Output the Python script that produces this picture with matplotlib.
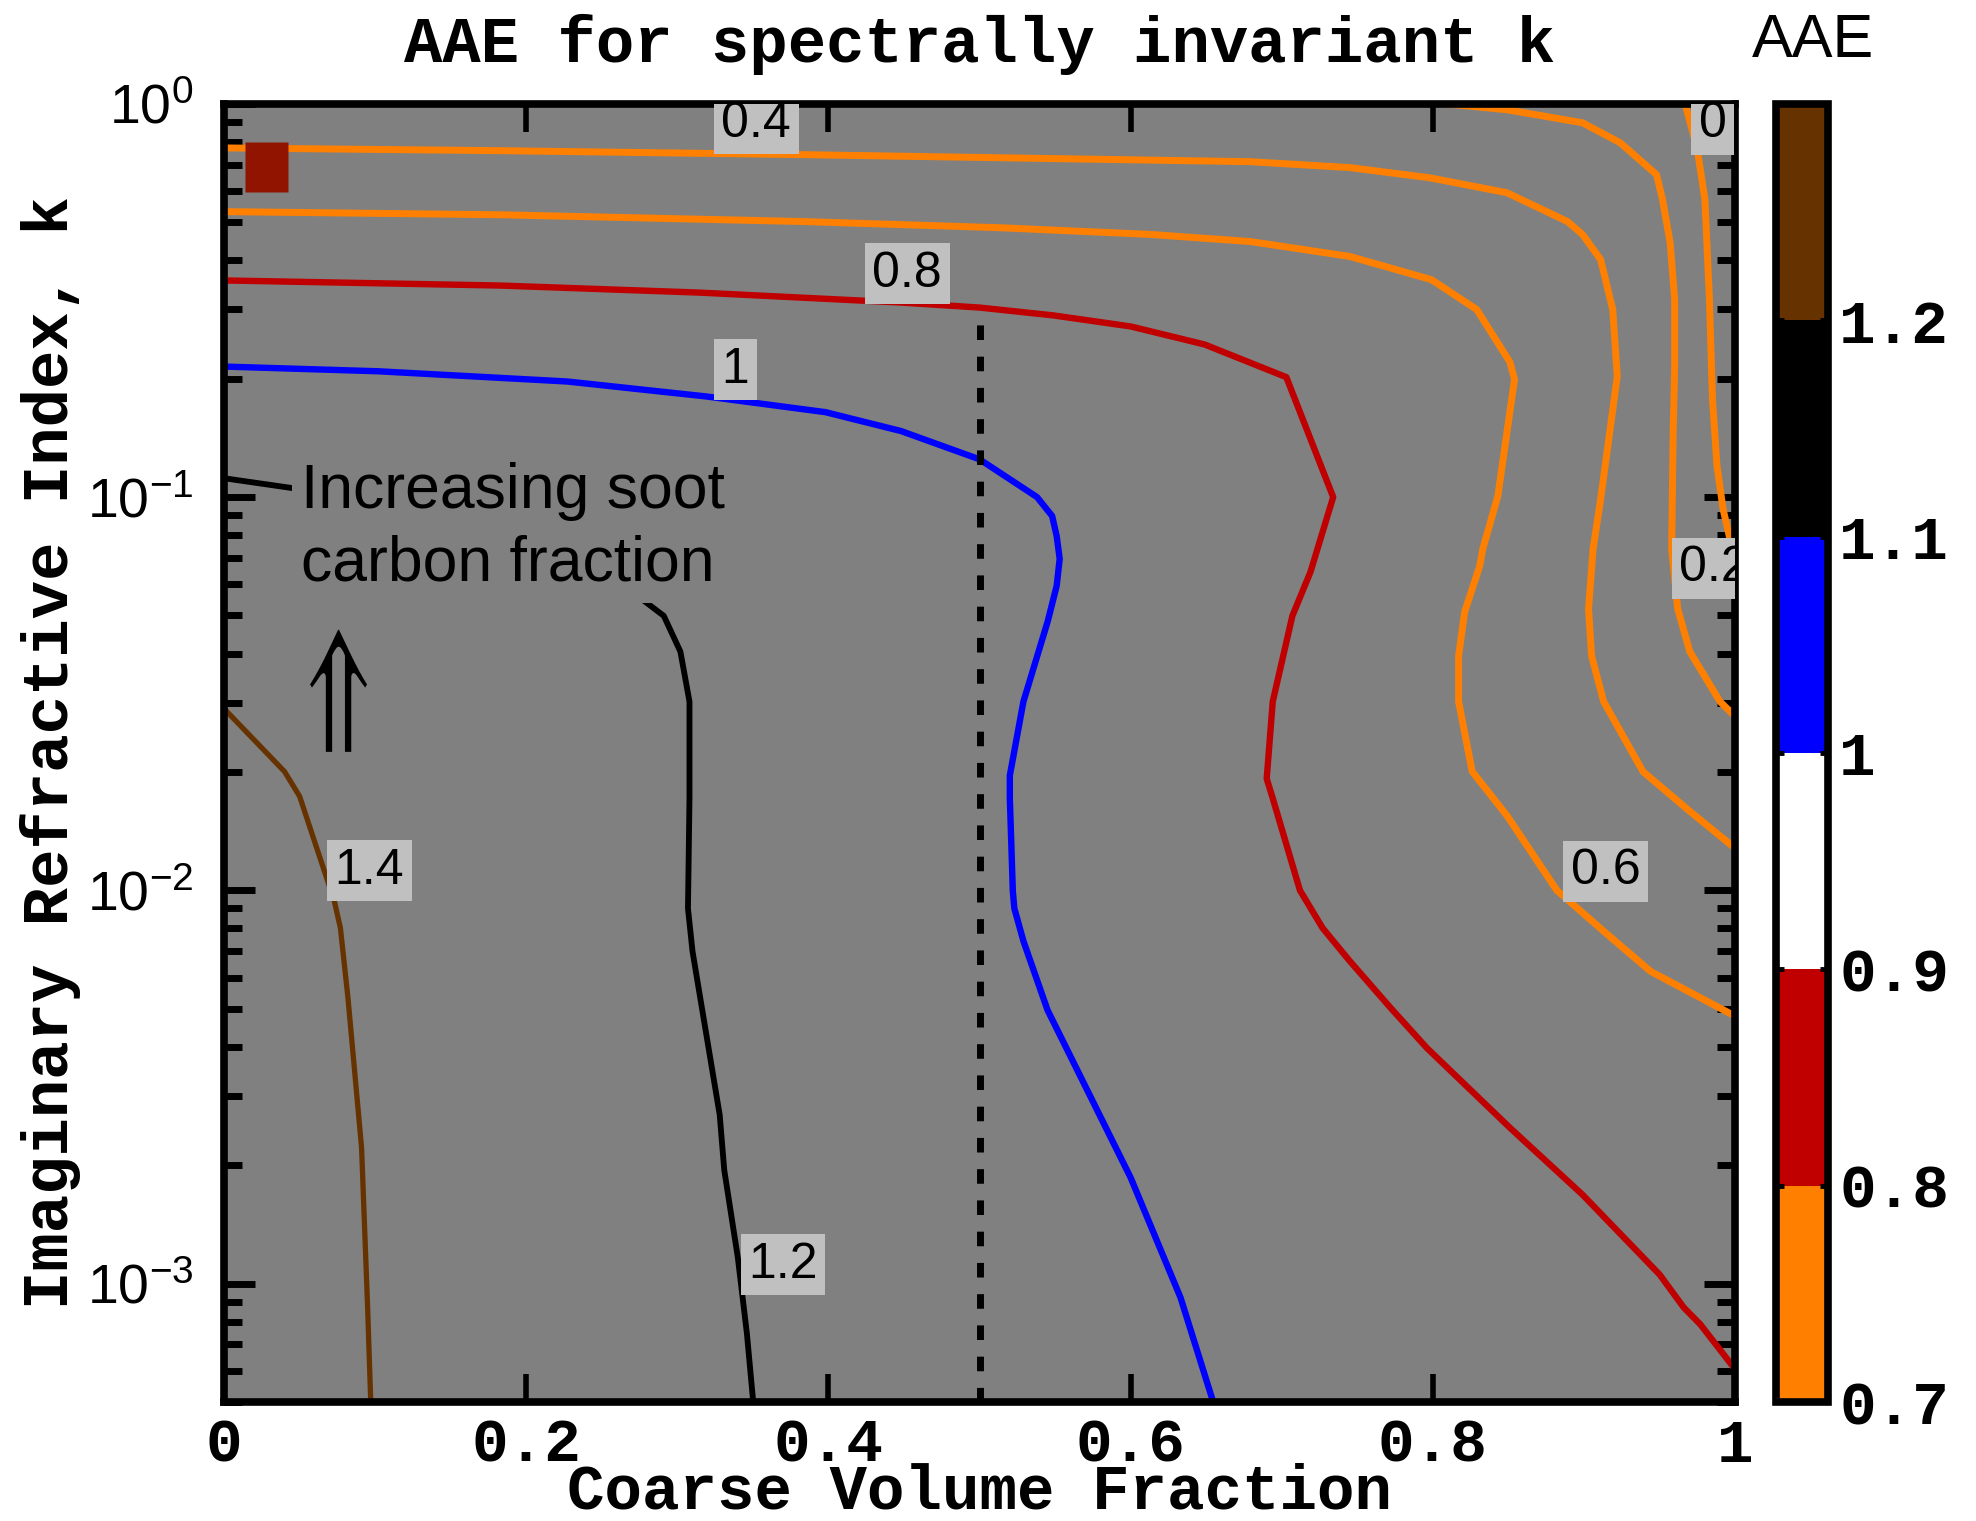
import numpy as np
import matplotlib
matplotlib.use('Agg')
import matplotlib.pyplot as plt
import matplotlib.transforms as mtransforms
from matplotlib.colors import ListedColormap, BoundaryNorm
from matplotlib.cm import ScalarMappable
from matplotlib.ticker import LogLocator, NullFormatter, NullLocator
from matplotlib.textpath import TextPath
from matplotlib.font_manager import FontProperties
from matplotlib.patches import PathPatch

# contour lines of AAE: x = coarse volume fraction, lk = log10(k)
x_00 = [0.967, 0.975, 0.980, 0.983, 0.985, 0.988, 0.992, 1.0]
lk_00 = [0.0, -0.117, -0.244, -0.497, -0.751, -0.921, -1.03, -1.165]

x_02 = [0.809, 0.849, 0.899, 0.924, 0.948, 0.952, 0.957, 0.960, 0.960, 0.959, 0.958, 0.962, 0.970, 0.990, 1.0]
lk_02 = [0.0, -0.015, -0.048, -0.099, -0.180, -0.244, -0.353, -0.497, -0.668, -0.835, -1.132, -1.284, -1.393, -1.520, -1.558]

x_04 = [0.0, 0.183, 0.381, 0.514, 0.679, 0.745, 0.798, 0.849, 0.889, 0.899, 0.911, 0.919, 0.922, 0.917,
        0.911, 0.906, 0.903, 0.905, 0.913, 0.939, 0.970, 1.0]
lk_04 = [-0.112, -0.119, -0.129, -0.137, -0.147, -0.162, -0.188, -0.226, -0.299, -0.332, -0.396, -0.523,
         -0.693, -0.835, -1.005, -1.132, -1.284, -1.404, -1.520, -1.698, -1.799, -1.893]

x_06 = [0.0, 0.183, 0.381, 0.514, 0.613, 0.679, 0.745, 0.799, 0.829, 0.851, 0.854, 0.849, 0.843, 0.833,
        0.831, 0.821, 0.817, 0.817, 0.826, 0.849, 0.882, 0.913, 0.944, 1.0]
lk_06 = [-0.274, -0.282, -0.299, -0.315, -0.332, -0.350, -0.388, -0.447, -0.523, -0.657, -0.701, -0.835,
         -0.997, -1.132, -1.175, -1.292, -1.404, -1.520, -1.698, -1.810, -2.000, -2.104, -2.206, -2.320]

x_08 = [0.0, 0.183, 0.315, 0.447, 0.500, 0.549, 0.600, 0.649, 0.703, 0.734, 0.719, 0.707, 0.694, 0.690,
        0.694, 0.712, 0.727, 0.745, 0.772, 0.796, 0.851, 0.899, 0.950, 0.966, 0.977, 1.0]
lk_08 = [-0.449, -0.462, -0.480, -0.505, -0.518, -0.538, -0.566, -0.612, -0.695, -1.000, -1.190, -1.302,
         -1.520, -1.716, -1.766, -2.000, -2.096, -2.180, -2.299, -2.401, -2.604, -2.774, -2.977, -3.061,
         -3.104, -3.218]

x_10 = [0.0, 0.102, 0.227, 0.319, 0.398, 0.448, 0.500, 0.538, 0.548, 0.551, 0.553, 0.551, 0.545, 0.529,
        0.520, 0.520, 0.522, 0.523, 0.529, 0.545, 0.600, 0.633, 0.654]
lk_10 = [-0.668, -0.680, -0.706, -0.744, -0.784, -0.832, -0.904, -1.000, -1.048, -1.099, -1.157, -1.226,
         -1.317, -1.520, -1.708, -1.766, -2.003, -2.046, -2.129, -2.305, -2.731, -3.036, -3.294]

x_12 = [0.0, 0.045, 0.116, 0.183, 0.249, 0.278, 0.291, 0.302, 0.308, 0.308, 0.307, 0.310, 0.317, 0.328,
        0.331, 0.340, 0.346, 0.350]
lk_12 = [-0.952, -0.977, -1.030, -1.107, -1.195, -1.264, -1.302, -1.393, -1.520, -1.766, -2.046, -2.155,
         -2.317, -2.571, -2.711, -2.934, -3.127, -3.294]

x_14 = [0.0, 0.040, 0.050, 0.073, 0.077, 0.082, 0.088, 0.091, 0.095, 0.097]
lk_14 = [-1.538, -1.698, -1.761, -2.028, -2.096, -2.274, -2.528, -2.655, -3.061, -3.294]

contour_x = [x_00, x_02, x_04, x_06, x_08, x_10, x_12, x_14]
contour_lk = [lk_00, lk_02, lk_04, lk_06, lk_08, lk_10, lk_12, lk_14]
contour_col = ['#ff8000', '#ff8000', '#ff8000', '#ff8000', '#c00000', '#0000ff', 'black', '#663300']
contour_lw = [5, 5, 5, 5, 4.6, 4.6, 4.2, 3.8]

# contour labels: text, x, log10(k) of the lower-left corner
lab_txt = ['0', '0.2', '0.4', '0.6', '0.8', '1', '1.2', '1.4']
lab_x = [0.971, 0.958, 0.324, 0.886, 0.424, 0.324, 0.342, 0.068]
lab_lk = [-0.13, -1.259, -0.129, -2.03, -0.510, -0.754, -3.03, -2.028]

# colour scale
cb_levels = [0.7, 0.8, 0.9, 1.0, 1.1, 1.2, 1.3]
cb_colors = ['#ff8000', '#c00000', 'white', '#0000ff', 'black', '#663300']
cb_ticks = [0.7, 0.8, 0.9, 1.0, 1.1, 1.2]
cb_ticklabels = ['0.7', '0.8', '0.9', '1', '1.1', '1.2']

x_ticks = [0, 0.2, 0.4, 0.6, 0.8, 1.0]
x_ticklabels = ['0', '0.2', '0.4', '0.6', '0.8', '1']
y_ticks = [1e-3, 1e-2, 1e-1, 1.0]
y_ticklabels = [r'$\mathregular{10^{-3}}$', r'$\mathregular{10^{-2}}$',
                r'$\mathregular{10^{-1}}$', r'$\mathregular{10^{0}}$']

vline_x = 0.5
vline_k = [5e-4, 0.30]
mark_x = 0.028
mark_k = 0.69

mono = 'Liberation Mono'
sans = 'Liberation Sans'

fig = plt.figure(figsize=(19.76, 15.21), dpi=100)
ax = fig.add_axes([0.1134, 0.0783, 0.7647, 0.8534])
ax.set_facecolor('#808080')

for xs, lks, c, w in zip(contour_x, contour_lk, contour_col, contour_lw):
    ax.plot(xs, 10 ** np.array(lks), color=c, lw=w, zorder=2)

ax.plot([vline_x, vline_x], vline_k, color='black', lw=5, linestyle=(0, (2.1, 2.4)), zorder=2)

# dark red box marker (slightly taller than wide)
box = [(-0.86, -1), (0.86, -1), (0.86, 1), (-0.86, 1), (-0.86, -1)]
ax.plot(mark_x, mark_k, marker=box, ms=36, color='#911400', mec='none', zorder=4)

for t, lx, ly in zip(lab_txt, lab_x, lab_lk):
    ax.annotate(t, (lx, 10 ** ly), xytext=(5.5, 5.5), textcoords='offset points',
                ha='left', va='bottom', fontsize=36, family=sans, clip_on=True, zorder=5,
                bbox=dict(boxstyle='square,pad=0.15', fc='#c0c0c0', ec='none'))

ax.text(0.051, 10 ** -1.246, 'Increasing soot\ncarbon fraction', fontsize=45, family=sans,
        ha='left', va='bottom', linespacing=1.3, zorder=3,
        bbox=dict(boxstyle='square,pad=0.15', fc='#808080', ec='none'))

# double up-arrow, squeezed sideways to the narrow shape of the original
tp = TextPath((0, 0), r'$\Uparrow$', size=1, prop=FontProperties(math_fontfamily='stix'))
ext = tp.get_extents()
arr_tr = (mtransforms.Affine2D().translate(-ext.x0, -ext.y0)
          .scale(0.0377 / ext.width, 0.094 / ext.height).translate(0.0569, 0.5008) + ax.transAxes)
ax.add_patch(PathPatch(tp, transform=arr_tr, fc='black', ec='none', zorder=3))

ax.set_yscale('log')
ax.set_xlim(0, 1)
ax.set_ylim(5e-4, 1)
ax.set_xticks(x_ticks)
ax.set_xticklabels(x_ticklabels, family=mono, fontweight='bold', fontsize=44)
ax.xaxis.set_minor_locator(NullLocator())
ax.set_yticks(y_ticks)
ax.set_yticklabels(y_ticklabels, family=sans, fontsize=40)
ax.yaxis.set_minor_locator(LogLocator(base=10, subs=np.arange(2, 10), numticks=20))
ax.yaxis.set_minor_formatter(NullFormatter())

ax.tick_params(which='both', direction='in', top=True, right=True)
ax.tick_params(axis='y', which='major', length=22, width=5, pad=22)
ax.tick_params(axis='y', which='minor', length=13, width=5)
ax.tick_params(axis='x', which='major', length=20, width=4, pad=11)
for s in ax.spines.values():
    s.set_linewidth(5.5)

ax.set_title('AAE for spectrally invariant k', family=mono, fontweight='bold', fontsize=46, pad=30)
ax.set_xlabel('Coarse Volume Fraction', family=mono, fontweight='bold', fontsize=45, labelpad=-9)
ax.set_ylabel('Imaginary Refractive Index, k', family=mono, fontweight='bold', fontsize=46, labelpad=4)

# colour bar
cax = fig.add_axes([0.8988, 0.0783, 0.0263, 0.8534])
cmap = ListedColormap(cb_colors)
norm = BoundaryNorm(cb_levels, cmap.N)
cb = fig.colorbar(ScalarMappable(norm=norm, cmap=cmap), cax=cax, ticks=cb_ticks)
cb.ax.set_yticklabels(cb_ticklabels, family=mono, fontweight='bold', fontsize=44)
cb.ax.minorticks_off()
cb.ax.tick_params(axis='y', direction='in', left=True, right=True, length=6, width=3.5, pad=8)
cb.outline.set_linewidth(5.5)
fig.text(0.9175, 0.9625, 'AAE', family=sans, fontsize=44, ha='center', va='baseline')

fig.savefig('out.png', dpi=100)
